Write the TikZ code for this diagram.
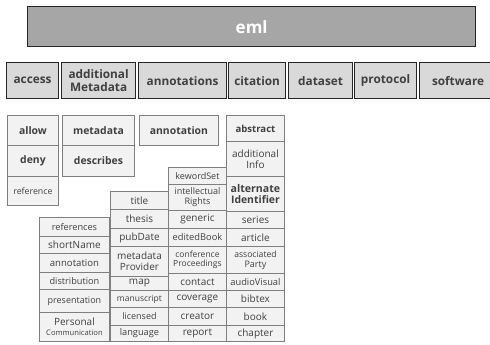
\documentclass[tikz,border=0pt]{standalone}
\usepackage{fontspec}
\setmainfont{Open Sans}
\definecolor{txt}{HTML}{404040}
\definecolor{bdA}{HTML}{262626}
\definecolor{bdB}{HTML}{7F7F7F}
\definecolor{fA}{HTML}{A6A6A6}
\definecolor{fB}{HTML}{D9D9D9}
\definecolor{fC}{HTML}{F2F2F2}
\newcommand\bx[6][lvlc]{\node[#1, minimum width={(#4-#2)*1pt}, minimum height={(#5-#3)*1pt}, anchor=north west] (#6) at (#2,#3)}
\newcommand\fs[1]{\fontsize{#1}{#1*1.1}\selectfont}
\tikzset{
  top/.style={draw=bdA, fill=fA, line width=1.4pt, inner sep=0pt, text=white, font=\bfseries\fontsize{17}{19}\selectfont},
  lvlb/.style={draw=bdA, fill=fB, line width=1.2pt, inner sep=0pt, text=txt, align=center, font=\bfseries\fontsize{11.8}{12.5}\selectfont},
  lvlc/.style={draw=bdB, fill=fC, line width=0.9pt, inner sep=0pt, text=txt, align=center, font=\fontsize{10}{11}\selectfont},
  lvlcb/.style={lvlc, font=\bfseries\fontsize{10.4}{11.5}\selectfont},
  sm/.style={lvlc, font=\fontsize{9}{10}\selectfont},
  xs/.style={lvlc, font=\fontsize{8.5}{9.3}\selectfont}
}
\begin{document}
\begin{tikzpicture}[x=1pt,y=-1pt]
\path[use as bounding box] (0,0) rectangle (490,345);
\begin{scope}
\clip (0,0) rectangle (490,345);
\bx[top]{27}{6}{475}{46}{eml} {eml};
% row 2
\bx[lvlb]{6}{62}{58}{98}{access} {access};
\bx[lvlb]{61}{62}{135}{98}{addmeta} {additional\\Metadata};
\bx[lvlb]{138}{62}{226}{98}{annotations} {annotations};
\bx[lvlb]{228}{62}{285}{98}{citation} {citation};
\bx[lvlb]{288}{62}{352}{98}{dataset} {dataset};
\bx[lvlb]{354}{62}{416}{98}{protocol} {protocol};
\bx[lvlb]{419}{62}{496}{98}{software} {software};
% access children
\bx[lvlcb]{7}{115}{58}{145}{allow} {allow};
\bx[lvlcb]{7}{145}{58}{176}{deny} {deny};
\bx[sm]{7}{176}{58}{205}{reference} {\fontsize{8.8}{10}\selectfont reference};
% additional metadata children
\bx[lvlcb]{62}{115}{134}{145}{metadata} {metadata};
\bx[lvlcb]{62}{145}{134}{176}{describes} {describes};
% annotations
\bx[lvlcb]{139}{115}{218}{145}{annotation} {annotation};
% abstract column
\bx[lvlcb]{226}{115}{284}{141}{abstract} {\fontsize{9.6}{11}\selectfont abstract};
\bx{226}{141}{284}{176}{addinfo} {additional\\Info};
\bx[lvlcb]{226}{176}{284}{211}{altid} {\fontsize{10.6}{12}\selectfont alternate\\Identifier};
\bx{226}{211}{284}{228}{series} {series};
\bx{226}{228}{284}{246}{article} {article};
\bx[sm]{226}{246}{284}{273}{assoc} {\fontsize{8.6}{10}\selectfont associated\\Party};
\bx[sm]{226}{273}{284}{290}{audiovisual} {\fontsize{9.3}{10}\selectfont audioVisual};
\bx{226}{290}{284}{307}{bibtex} {bibtex};
\bx{226}{307}{284}{325}{book} {book};
\bx{226}{325}{284}{341}{chapter} {chapter};
% middle column
\bx[sm]{168}{167}{226}{184}{keyword} {kewordSet};
\bx[sm]{168}{184}{226}{210}{intellectual} {intellectual\\Rights};
\bx{168}{210}{226}{228}{generic} {generic};
\bx[sm]{168}{228}{226}{246}{editedbook} {\fontsize{9.3}{10}\selectfont editedBook};
\bx[xs]{168}{246}{226}{273}{conference} {conference\\Proceedings};
\bx{168}{273}{226}{290}{contact} {contact};
\bx{168}{290}{226}{307}{coverage} {coverage};
\bx{168}{307}{226}{325}{creator} {creator};
\bx{168}{325}{226}{341}{report} {report};
% title column
\bx{110}{191}{168}{209}{title} {title};
\bx{110}{209}{168}{228}{thesis} {thesis};
\bx{110}{228}{168}{246}{pubdate} {pubDate};
\bx{110}{246}{168}{276}{metaprov} {metadata\\Provider};
\bx{110}{276}{168}{290}{map} {map};
\bx[xs]{110}{290}{168}{307}{manuscript} {manuscript};
\bx[sm]{110}{307}{168}{325}{licensed} {licensed};
\bx[sm]{110}{325}{168}{341}{language} {\fontsize{9.2}{10}\selectfont language};
% left column
\bx[sm]{39}{217}{109}{236}{references} {\fontsize{9.2}{10}\selectfont references};
\bx{39}{236}{109}{253}{shortname} {shortName};
\bx[sm]{39}{253}{109}{272}{annotation2} {\fontsize{9.6}{10}\selectfont annotation};
\bx[sm]{39}{272}{109}{289}{distribution} {\fontsize{9.2}{10}\selectfont distribution};
\bx[sm]{39}{289}{109}{312}{presentation} {\fontsize{9}{10}\selectfont presentation};
\bx{39}{312}{109}{341}{personal} {Personal\\[-1pt]{\fontsize{7.6}{8.5}\selectfont Communication}};
\end{scope}
\end{tikzpicture}
\end{document}
